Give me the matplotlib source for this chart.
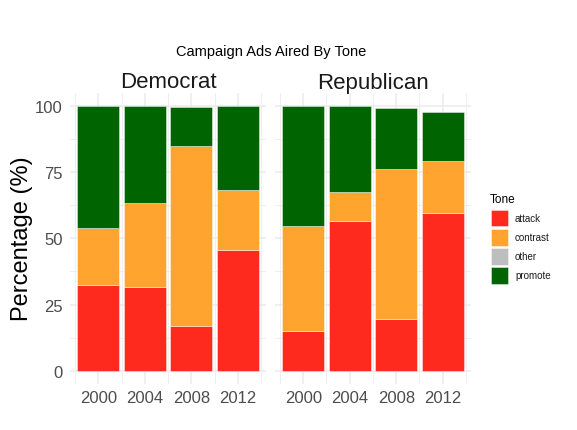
import matplotlib
matplotlib.use("Agg")
import matplotlib.pyplot as plt
from matplotlib.patches import Rectangle
import numpy as np

plt.rcParams['font.family'] = ['Liberation Sans', 'DejaVu Sans']

years = [2000, 2004, 2008, 2012]
parties = ["Democrat", "Republican"]
tones = ["attack", "contrast", "other", "promote"]
colors = {"attack": "#FF2A1E", "contrast": "#FFA42F", "other": "#BEBEBE", "promote": "#006400"}

dem_attack = [32.5, 31.6, 16.9, 45.4]
dem_contrast = [21.2, 31.8, 68.0, 22.8]
dem_other = [0.0, 0.0, 0.0, 0.0]
dem_promote = [46.3, 36.6, 14.6, 31.8]

rep_attack = [14.9, 56.5, 19.6, 59.6]
rep_contrast = [39.6, 10.8, 56.4, 19.5]
rep_other = [0.0, 0.0, 0.0, 0.0]
rep_promote = [45.5, 32.7, 23.3, 18.6]

data = {
    "Democrat": [dem_attack, dem_contrast, dem_other, dem_promote],
    "Republican": [rep_attack, rep_contrast, rep_other, rep_promote],
}

W, H = 577, 431
fig = plt.figure(figsize=(W / 100, H / 100), dpi=100)

def fx(px):
    return px / W

def fy(py):
    return 1 - py / H

panel_top, panel_bot = 93.5, 385.0
lefts = [70.4, 275.3]
pw = 195.3
grid_c = "#EBEBEB"

for i, party in enumerate(parties):
    ax = fig.add_axes([fx(lefts[i]), fy(panel_bot), fx(pw), (panel_bot - panel_top) / H])
    bottom = np.zeros(len(years))
    for tone, vals in zip(tones, data[party]):
        v = np.array(vals)
        ax.bar(years, v, width=3.6, bottom=bottom, color=colors[tone],
               edgecolor=(1, 1, 1, 0.6), linewidth=0.5, zorder=3)
        bottom += v
    ax.set_xlim(1997.6, 2014.4)
    ax.set_ylim(-5, 105)
    ax.set_xticks(years)
    ax.set_xticks([1998, 2002, 2006, 2010, 2014], minor=True)
    ax.set_yticks([0, 25, 50, 75, 100])
    ax.set_yticks([12.5, 37.5, 62.5, 87.5], minor=True)
    ax.grid(True, which='major', color=grid_c, linewidth=1.1, zorder=0)
    ax.grid(True, which='minor', color=grid_c, linewidth=0.55, zorder=0)
    ax.set_axisbelow(True)
    for s in ax.spines.values():
        s.set_visible(False)
    ax.tick_params(which='both', length=0)
    ax.tick_params(axis='x', labelsize=12, labelcolor='#4D4D4D', pad=4)
    ax.tick_params(axis='y', labelsize=12, labelcolor='#4D4D4D', pad=5.5)
    if i == 1:
        ax.set_yticklabels([])
    ax.set_title(party, fontsize=16, color='#1A1A1A', pad=3.5)

fig.text(fx(22.5), fy(239), "Percentage (%)", rotation=90, ha='center', va='center',
         fontsize=17, color='black')

fig.text(fx(271), fy(56.3), "Campaign Ads Aired By Tone", ha='center', va='baseline',
         fontsize=10.5, color='black')

# legend (ggplot-style guide)
key_x, key_w, key_h, key_top0, key_step = 491.0, 16.7, 16.7, 210.7, 19.1
fig.text(fx(490), fy(203.3), "Tone", ha='left', va='baseline', fontsize=8.5, color='black')
for k, t in enumerate(tones):
    top = key_top0 + k * key_step
    fig.add_artist(Rectangle((fx(key_x), fy(top + key_h)), fx(key_w), key_h / H,
                             transform=fig.transFigure, facecolor=colors[t],
                             edgecolor=(1, 1, 1, 0.6), linewidth=0.5))
    fig.text(fx(515), fy(top + key_h / 2), t, ha='left', va='center', fontsize=7,
             color='#1A1A1A')

fig.savefig("out.png", dpi=100, facecolor='white')
